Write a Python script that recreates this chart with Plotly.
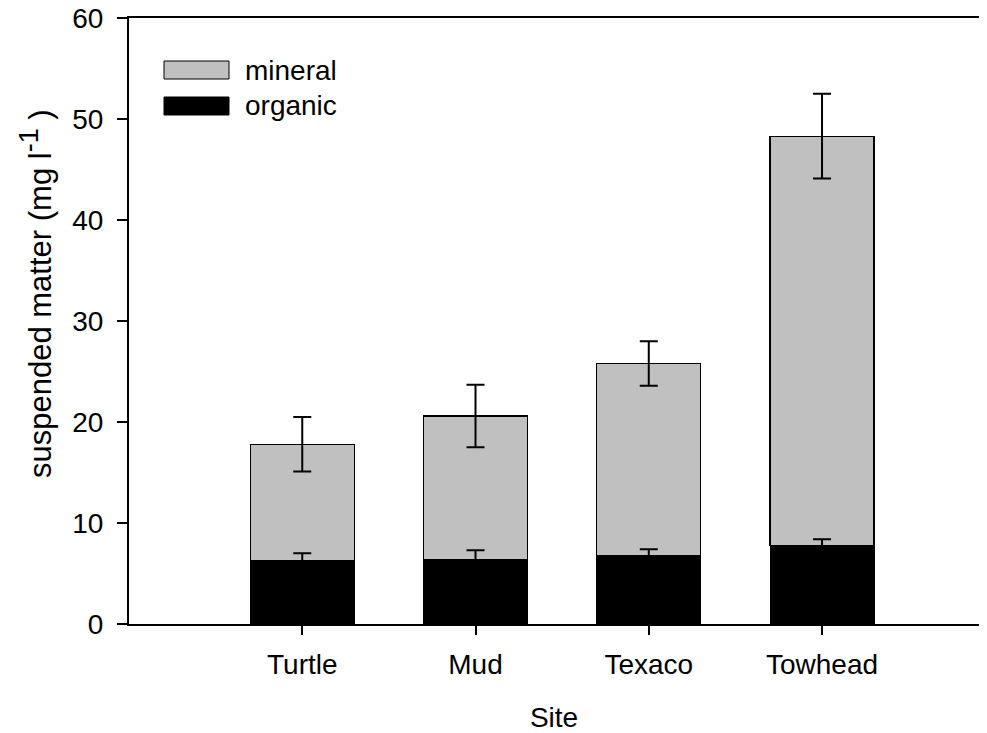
import plotly.graph_objects as go

# Suspended matter by site: organic + mineral fractions (mg/l)
sites = ["Turtle", "Mud", "Texaco", "Towhead"]
organic = [6.3, 6.4, 6.8, 7.8]
mineral = [11.5, 14.2, 19.0, 40.5]
organic_err = [0.7, 0.9, 0.6, 0.6]
total_err = [2.7, 3.1, 2.2, 4.2]

totals = [o + m for o, m in zip(organic, mineral)]

W, H = 987, 733
ML, MR, MT, MB = 129, 8, 18, 109
FONT = dict(family="Liberation Sans, Arial, sans-serif", size=28, color="black")
LEG_FONT = dict(FONT, size=28)
YT_FONT = dict(FONT, size=31)
GREY = "#c0c0c0"

fig = go.Figure()
fig.add_trace(go.Bar(x=sites, y=organic, name="organic", width=0.6,
                     marker=dict(color="black", line=dict(color="black", width=1))))
fig.add_trace(go.Bar(x=sites, y=mineral, name="mineral", width=0.6,
                     marker=dict(color=GREY, line=dict(color="black", width=1.2))))

# error bars at the top of each stacked segment
err_style = dict(type="data", color="black", thickness=2, width=9)
fig.add_trace(go.Scatter(x=sites, y=organic, mode="markers",
                         marker=dict(size=0, opacity=0),
                         error_y=dict(array=organic_err, **err_style),
                         hoverinfo="skip"))
fig.add_trace(go.Scatter(x=sites, y=totals, mode="markers",
                         marker=dict(size=0, opacity=0),
                         error_y=dict(array=total_err, **err_style),
                         hoverinfo="skip"))

pw = W - ML - MR
ph = H - MT - MB


def px_x(p):
    return (p - ML) / pw


def px_y(p):
    return 1 - (p - MT) / ph


# legend drawn as swatches + labels
legend_items = [("mineral", GREY, 61, 79), ("organic", "black", 97, 115)]
for label, col, y0, y1 in legend_items:
    fig.add_shape(type="rect", xref="paper", yref="paper",
                  x0=px_x(164), x1=px_x(229), y0=px_y(y1), y1=px_y(y0),
                  fillcolor=col, line=dict(color="black", width=1))
    fig.add_annotation(xref="paper", yref="paper", x=px_x(243),
                       y=px_y((y0 + y1) / 2), text=label, showarrow=False,
                       xanchor="left", yanchor="middle", font=LEG_FONT)

# y-axis title
fig.add_annotation(xref="paper", yref="paper", x=px_x(36), y=px_y(294),
                   text="suspended matter (mg l<sup><span style='font-size:27px'>-1</span></sup> )",
                   textangle=-90, showarrow=False, xanchor="center",
                   yanchor="middle", font=YT_FONT)

fig.update_layout(
    width=W, height=H, barmode="stack", showlegend=False,
    margin=dict(l=ML, r=MR, t=MT, b=MB, pad=0, autoexpand=False),
    plot_bgcolor="white", paper_bgcolor="white", font=FONT,
    xaxis=dict(range=[-1.0, 3.906], showline=True, linecolor="black", linewidth=2,
               mirror=True, ticks="outside", ticklen=9, tickwidth=1.5,
               tickcolor="black", showgrid=False, zeroline=False,
               ticklabelstandoff=5, automargin=False,
               title=dict(text="Site", font=FONT, standoff=30)),
    yaxis=dict(range=[0, 60], tickvals=[0, 10, 20, 30, 40, 50, 60],
               showline=True, linecolor="black", linewidth=2,
               ticks="outside", ticklen=10, tickwidth=1.5, tickcolor="black",
               showgrid=False, zeroline=False, ticklabelstandoff=8,
               automargin=False),
)

fig.write_html("out.html")
